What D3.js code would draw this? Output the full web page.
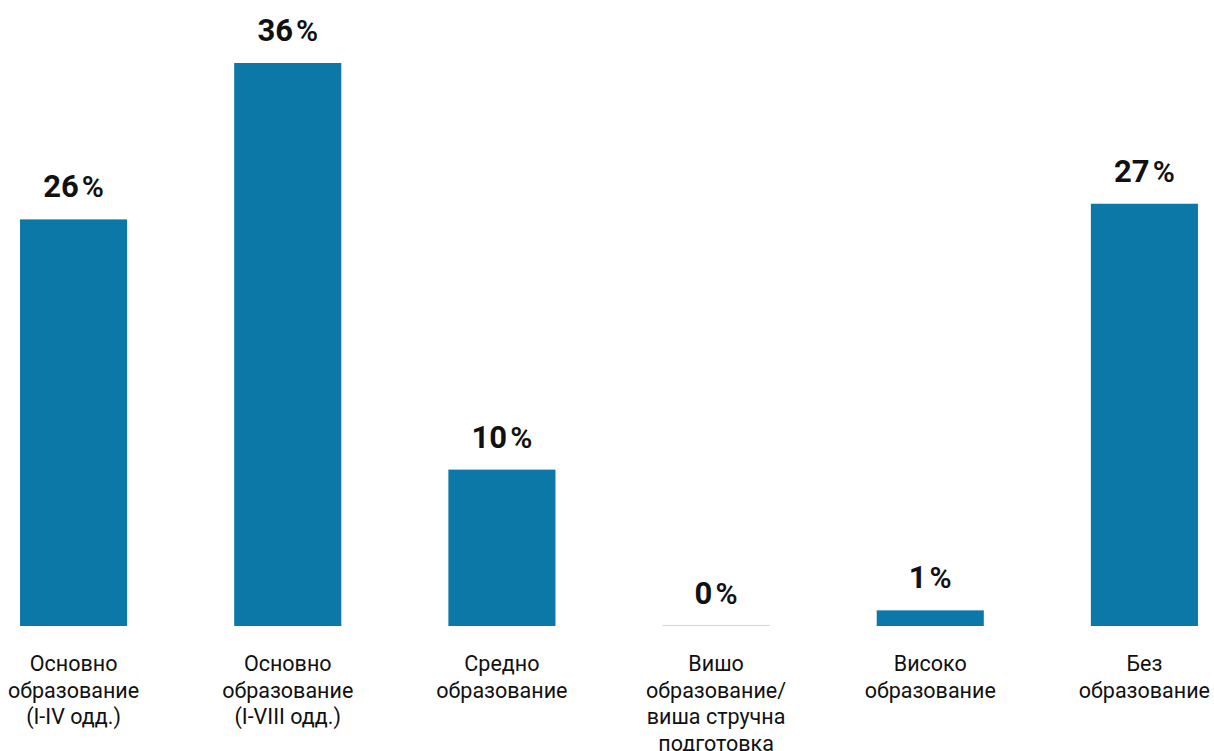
<!DOCTYPE html>
<html><head><meta charset="utf-8">
<script src="https://cdn.jsdelivr.net/npm/d3@7"></script>
<style>body{margin:0;background:#fff;} svg{display:block;font-family:Roboto,sans-serif;}</style>
</head><body>
<script>
const categories = [
  ["Основно","образование","(I-IV одд.)"],
  ["Основно","образование","(I-VIII одд.)"],
  ["Средно","образование"],
  ["Вишо","образование/","виша стручна","подготовка"],
  ["Високо","образование"],
  ["Без","образование"]
];
const values = [26, 36, 10, 0, 1, 27];
const valueLabels = ["26","36","10","0","1","27"];

const W = 1214, H = 751;
const svg = d3.select("body").append("svg").attr("width", W).attr("height", H);
const idx = d3.range(categories.length);
const x = d3.scaleBand().domain(idx).range([-33.5, 1251.5]).paddingInner(0.5).paddingOuter(0.25);
const y = d3.scaleLinear().domain([0, 36]).range([626, 63]);

svg.selectAll("rect.bar").data(idx).enter().append("rect")
  .attr("class","bar")
  .attr("x", i => x(i)).attr("width", x.bandwidth())
  .attr("y", i => y(values[i])).attr("height", i => y(0) - y(values[i]))
  .attr("fill", "#0b78a7");

svg.selectAll("line.zero").data(idx.filter(i => values[i] === 0)).enter().append("line")
  .attr("x1", i => x(i)).attr("x2", i => x(i) + x.bandwidth())
  .attr("y1", y(0) - 0.5).attr("y2", y(0) - 0.5)
  .attr("stroke", "#0b78a7").attr("stroke-opacity", 0.25).attr("stroke-width", 1);

const vl = svg.selectAll("text.val").data(idx).enter().append("text")
  .attr("class","val")
  .attr("x", i => x(i) + x.bandwidth()/2)
  .attr("y", i => y(values[i]) - 22)
  .attr("text-anchor","middle")
  .attr("fill","#111");
vl.append("tspan").attr("font-size", 31).attr("font-weight", 700).text(i => valueLabels[i]);
vl.append("tspan").attr("font-size", 30).attr("font-weight", 600).attr("dx", 3).text("%");

const cl = svg.selectAll("text.cat").data(idx).enter().append("text")
  .attr("class","cat")
  .attr("x", i => x(i) + x.bandwidth()/2)
  .attr("y", 671)
  .attr("text-anchor","middle")
  .attr("font-size", 21.5)
  .attr("fill","#111");
cl.selectAll("tspan").data(i => categories[i].map(t => ({t, cx: x(i) + x.bandwidth()/2}))).enter().append("tspan")
  .attr("x", d => d.cx).attr("dy", (d, j) => j === 0 ? 0 : 26.5).text(d => d.t);
</script>
</body></html>
